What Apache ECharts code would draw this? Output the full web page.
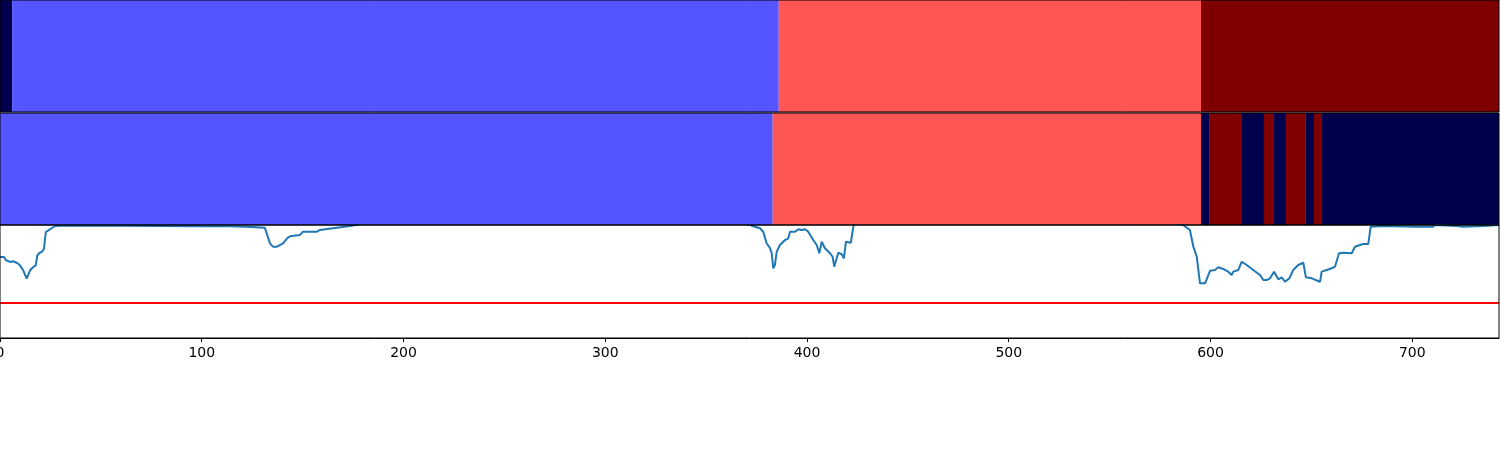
<!DOCTYPE html>
<html><head><meta charset="utf-8">
<script src="https://cdn.jsdelivr.net/npm/echarts@6/dist/echarts.min.js"></script>
<style>html,body{margin:0;padding:0;background:#fff}#c{width:1500px;height:450px}</style>
</head><body><div id="c"></div>
<script>
// class colours (seismic colormap, 4 classes)
const classColors = ['#00004c', '#5555ff', '#ff5555', '#7f0000'];

// [start, end, class]
const topBands = [
  [0, 6, 0], [6, 386, 1], [386, 595.3, 2], [595.3, 743, 3]
];
const midBands = [
  [0, 383, 1], [383, 595.3, 2], [595.3, 599.3, 0], [599.3, 615.6, 3],
  [615.6, 626.5, 0], [626.5, 631.5, 3], [631.5, 637.4, 0], [637.4, 647.3, 3],
  [647.3, 651.3, 0], [651.3, 655.3, 3], [655.3, 743, 0]
];

// line values [x, value]
const lineValues = [
  [0,0.717],[2,0.717],[3,0.688],[5,0.673],[6.4,0.679],[8.3,0.666],[9.9,0.643],[11.5,0.599],
  [13.2,0.525],[14,0.525],[14.9,0.599],[15.7,0.613],[16.5,0.628],[17.7,0.643],[18.5,0.732],
  [19.5,0.752],[21,0.767],[21.8,0.790],[22.7,0.938],[24,0.953],[25.6,0.971],[27.3,0.991],
  [33,0.995],[60,0.993],[100,0.99],[114,0.99],[125,0.982],[131.3,0.975],[133.8,0.838],
  [135.3,0.808],[137.3,0.808],[140.3,0.838],[142.3,0.882],[143.7,0.9],[148.7,0.912],
  [150.2,0.941],[157.1,0.941],[158.6,0.956],[165,0.971],[173.5,0.991],[182,1.02],
  [250,1.02],[320,1.02],[366,1.02],[371.7,1.0],[374.2,0.985],[376.7,0.971],[378.3,0.941],
  [380.0,0.838],[381.7,0.794],[382.5,0.750],[383.3,0.617],[384.1,0.646],[385.0,0.764],
  [386.6,0.823],[389.1,0.867],[390.7,0.882],[391.6,0.941],[394.1,0.941],[395.7,0.962],
  [397.4,0.956],[399.0,0.962],[400.6,0.941],[403.1,0.867],[404.8,0.823],[406.1,0.750],
  [407.3,0.852],[408.9,0.794],[411.4,0.750],[412.7,0.719],[413.5,0.631],[414.4,0.631],
  [415.5,0.755],[417.2,0.741],[418.3,0.705],[419.3,0.852],[421.7,0.843],[423.3,1.02],
  [450,1.02],[520,1.02],[580,1.02],[586.5,1.0],[589.8,0.956],[591.5,0.808],[593.2,0.719],
  [594.8,0.484],[597.3,0.484],[599.8,0.596],[602.2,0.602],[603.9,0.626],[606.3,0.611],
  [608.8,0.587],[610.5,0.558],[611.3,0.587],[613.8,0.602],[615.5,0.675],[617.9,0.646],
  [621.2,0.602],[624.5,0.558],[626.2,0.513],[627.8,0.513],[629.5,0.528],[631.5,0.587],
  [633.6,0.519],[635.3,0.537],[636.9,0.498],[639.1,0.528],[641.0,0.602],[643.5,0.646],
  [646.0,0.666],[647.3,0.537],[650.2,0.528],[654.3,0.498],[655.1,0.587],[657.6,0.602],
  [660.1,0.617],[661.7,0.631],[663.7,0.750],[665.8,0.755],[670.0,0.750],[671.6,0.808],
  [674.1,0.823],[675.7,0.832],[678.2,0.832],[679.4,0.985],[685.6,0.991],[702.2,0.985],
  [710.3,0.985],[711.3,1.0],[722.0,0.991],[725.3,0.985],[735.2,0.991],[742.7,1.0]
];
const thresholdValues = [[0, 0.31], [743, 0.31]];
const xMin = 0, xMax = 743, xInterval = 100;

function bandItem(params, api) {
  const p0 = api.coord([api.value(0), 1]);
  const p1 = api.coord([api.value(1), 0]);
  return {
    type: 'rect',
    shape: { x: p0[0], y: p0[1], width: p1[0] - p0[0], height: p1[1] - p0[1] },
    style: { fill: classColors[api.value(2)] }
  };
}

const gridBase = { left: 0, width: 1499, show: true, borderColor: '#000', borderWidth: 1,
  backgroundColor: 'transparent', z: 10, containLabel: false, outerBoundsMode: 'none' };
const hiddenX = (i) => ({ type: 'value', gridIndex: i, min: xMin, max: xMax, show: false });
const hiddenY = (i) => ({ type: 'value', gridIndex: i, min: 0, max: 1, show: false });

const chart = echarts.init(document.getElementById('c'), null, { renderer: 'canvas' });
chart.setOption({
  animation: false,
  backgroundColor: '#fff',
  grid: [
    Object.assign({ top: 0, height: 112 }, gridBase),
    Object.assign({ top: 113, height: 112 }, gridBase),
    Object.assign({ top: 225, height: 113 }, gridBase)
  ],
  xAxis: [
    hiddenX(0), hiddenX(1),
    {
      type: 'value', gridIndex: 2, min: xMin, max: xMax, interval: xInterval,
      axisLine: { show: true, lineStyle: { color: '#000', width: 1 } },
      axisTick: { show: true, length: 4, lineStyle: { color: '#000', width: 1 } },
      axisLabel: { color: '#000', fontSize: 14, fontFamily: 'DejaVu Sans', margin: 8, showMaxLabel: false },
      splitLine: { show: false }
    }
  ],
  yAxis: [hiddenY(0), hiddenY(1), hiddenY(2)],
  series: [
    { type: 'custom', xAxisIndex: 0, yAxisIndex: 0, renderItem: bandItem, data: topBands, silent: true },
    { type: 'custom', xAxisIndex: 1, yAxisIndex: 1, renderItem: bandItem, data: midBands, silent: true },
    {
      type: 'line', xAxisIndex: 2, yAxisIndex: 2, data: lineValues, showSymbol: false, clip: true,
      lineStyle: { color: '#1f77b4', width: 2 }, itemStyle: { color: '#1f77b4' }
    },
    {
      type: 'line', xAxisIndex: 2, yAxisIndex: 2, data: thresholdValues, showSymbol: false,
      lineStyle: { color: '#ff0000', width: 2 }, itemStyle: { color: '#ff0000' }
    }
  ]
});
</script></body></html>
